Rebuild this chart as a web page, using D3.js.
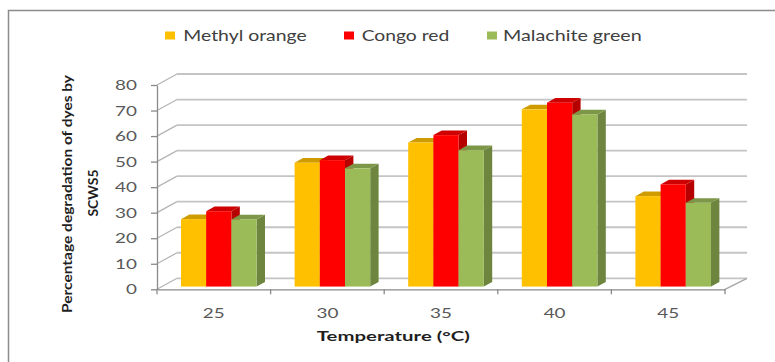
<!DOCTYPE html>
<html>
<head>
<meta charset="utf-8">
<script src="https://cdn.jsdelivr.net/npm/d3@7"></script>
<style>
  html, body { margin: 0; padding: 0; background: #ffffff; }
  svg { display: block; }
  text { font-family: Lato, "Open Sans", "Liberation Sans", sans-serif; }
</style>
</head>
<body>
<svg id="chart" width="775" height="362"></svg>
<script>
// Temperature categories (°C)
const categories = ["25", "30", "35", "40", "45"];

// Percentage degradation of each dye
const methylOrange   = [26.4, 48.5, 56.4, 69.4, 35.4];
const congoRed       = [29.5, 49.5, 59.3, 72.0, 40.0];
const malachiteGreen = [26.3, 46.3, 53.4, 67.4, 32.8];

const seriesNames  = ["Methyl orange", "Congo red", "Malachite green"];
const seriesColors = ["#FFC000", "#FF0000", "#9BBB59"];
const yTicks = [0, 10, 20, 30, 40, 50, 60, 70, 80];

const series = [methylOrange, congoRed, malachiteGreen];

const svg = d3.select("#chart");

// 3D box: front plane and depth offset towards the back wall
const front = { left: 157, right: 725, top: 85, bottom: 289.3 };
const DX = 20, DY = 11;          // full depth of the plot box
const barZ = 0.25, barD = 0.42;  // bar front position and thickness as depth fractions

const y = d3.scaleLinear().domain([0, 80]).range([front.bottom, front.top]);
const x0 = d3.scaleBand().domain(categories)
  .range([front.left, front.right])
  .paddingInner(0.3345).paddingOuter(0.16725);
const x1 = d3.scaleBand().domain(seriesNames).range([0, x0.bandwidth()]);

// Frame around the chart
svg.append("rect")
  .attr("x", 8.5).attr("y", 10.5).attr("width", 800).attr("height", 400)
  .attr("fill", "none").attr("stroke", "#8c8c8c").attr("stroke-width", 1.5);

// Back wall gridlines and left wall diagonals
const grid = svg.append("g");
yTicks.forEach(v => {
  const yy = y(v);
  grid.append("line")
    .attr("x1", front.left + DX).attr("x2", front.right + DX + 2)
    .attr("y1", yy - DY).attr("y2", yy - DY)
    .attr("stroke", "#c4c4c4").attr("stroke-width", 1.8);
  grid.append("line")
    .attr("x1", front.left).attr("x2", front.left + DX)
    .attr("y1", yy).attr("y2", yy - DY)
    .attr("stroke", "#b5b5b5").attr("stroke-width", 1.3);
});

// Floor: right diagonal edge
svg.append("line")
  .attr("x1", front.right).attr("y1", front.bottom)
  .attr("x2", front.right + DX + 2).attr("y2", front.bottom - DY)
  .attr("stroke", "#a6a6a6").attr("stroke-width", 1.3);

// Bars
const bars = svg.append("g");
categories.forEach((c, i) => {
  series.forEach((vals, s) => {
    const v = vals[i];
    const col = d3.color(seriesColors[s]);
    const fx = DX * barZ, fy = -DY * barZ;
    const dx = DX * barD, dy = -DY * barD;
    const xl = x0(c) + x1(seriesNames[s]) + fx;
    const xr = xl + x1.bandwidth();
    const yt = y(v) + fy;
    const yb = y(0) + fy;
    // right side face
    bars.append("polygon")
      .attr("points", [[xr, yt], [xr + dx, yt + dy], [xr + dx, yb + dy], [xr, yb]].join(" "))
      .attr("fill", col.darker(0.95).formatHex());
    // top face
    bars.append("polygon")
      .attr("points", [[xl, yt], [xr, yt], [xr + dx, yt + dy], [xl + dx, yt + dy]].join(" "))
      .attr("fill", col.darker(0.6).formatHex());
    // front face
    bars.append("rect")
      .attr("x", xl).attr("y", yt)
      .attr("width", x1.bandwidth()).attr("height", yb - yt)
      .attr("fill", seriesColors[s]);
  });
});

// Y axis
const yAxis = svg.append("g")
  .attr("transform", `translate(${front.left},0)`)
  .call(d3.axisLeft(y).tickValues(yTicks).tickSize(6).tickSizeOuter(0).tickPadding(14));
yAxis.select(".domain").attr("stroke", "#8a8a8a").attr("stroke-width", 1.3);
yAxis.selectAll(".tick line").attr("stroke", "#8a8a8a").attr("stroke-width", 1.3);
yAxis.selectAll(".tick text")
  .attr("x", 0)
  .attr("transform", "translate(-20,0) scale(1.35,1)")
  .attr("font-size", 14)
  .attr("fill", "#595959");

// X axis
const xAxis = svg.append("g")
  .attr("transform", `translate(0,${front.bottom})`)
  .call(d3.axisBottom(x0).tickSize(0).tickSizeOuter(0));
xAxis.select(".domain").attr("stroke", "#8a8a8a").attr("stroke-width", 1.3);
xAxis.selectAll(".tick text")
  .attr("y", 0).attr("dy", 0)
  .attr("transform", "translate(0,29) scale(1.35,1)")
  .attr("font-size", 14)
  .attr("fill", "#595959");
// category separators on the front floor edge
const step = x0.step();
d3.range(categories.length + 1).forEach(k => {
  const xx = front.left + k * step;
  xAxis.append("line")
    .attr("x1", xx).attr("x2", xx).attr("y1", 0).attr("y2", 5)
    .attr("stroke", "#8a8a8a").attr("stroke-width", 1.3);
});

// Axis titles
svg.append("text")
  .attr("x", 393.3).attr("y", 341)
  .attr("text-anchor", "middle")
  .attr("font-size", 13.5).attr("font-weight", "bold")
  .attr("fill", "#1f1f1f")
  .attr("textLength", 153).attr("lengthAdjust", "spacingAndGlyphs")
  .text("Temperature (°C)");

svg.append("text")
  .attr("transform", "translate(72,194) rotate(-90)")
  .attr("text-anchor", "middle")
  .attr("font-size", 14).attr("font-weight", "bold")
  .attr("fill", "#1f1f1f")
  .attr("textLength", 238).attr("lengthAdjust", "spacingAndGlyphs")
  .text("Percentage degradation of dyes by");
svg.append("text")
  .attr("transform", "translate(98,193) rotate(-90)")
  .attr("text-anchor", "middle")
  .attr("font-size", 14).attr("font-weight", "bold")
  .attr("fill", "#1f1f1f")
  .attr("textLength", 47).attr("lengthAdjust", "spacingAndGlyphs")
  .text("SCWS5");

// Legend
const legendX = [165, 344, 487];
const legendTextX = [183.3, 361.7, 503];
const legendLen = [123.4, 87.6, 138.7];
const legend = svg.append("g");
seriesNames.forEach((name, s) => {
  legend.append("rect")
    .attr("x", legendX[s]).attr("y", 31.5)
    .attr("width", 10).attr("height", 8)
    .attr("fill", seriesColors[s]);
  legend.append("text")
    .attr("x", legendTextX[s]).attr("y", 41)
    .attr("font-size", 15)
    .attr("fill", "#404040")
    .attr("textLength", legendLen[s]).attr("lengthAdjust", "spacingAndGlyphs")
    .text(name);
});
</script>
</body>
</html>
